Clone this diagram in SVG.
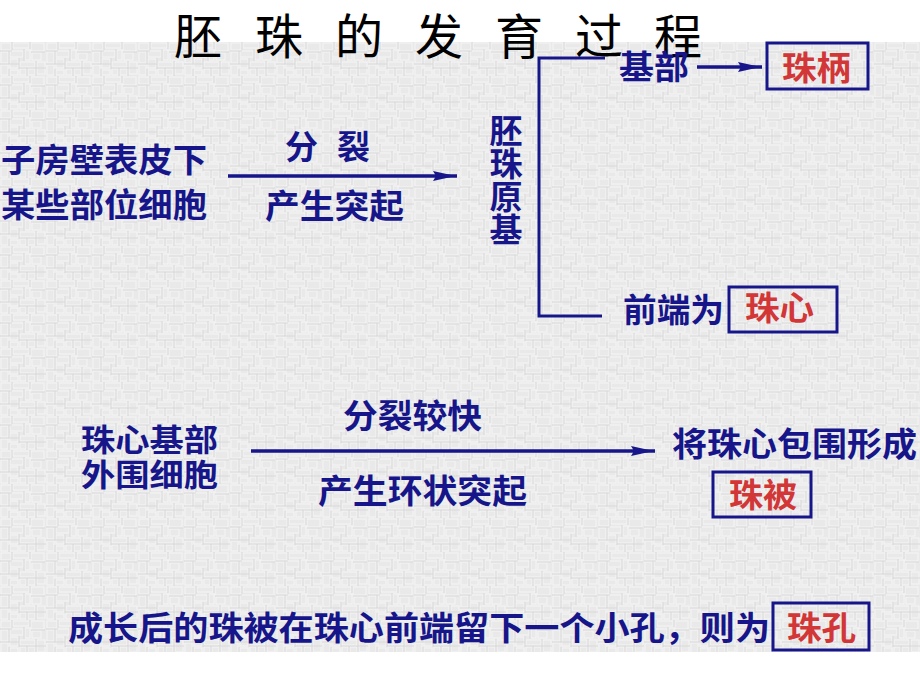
<svg xmlns="http://www.w3.org/2000/svg" width="920" height="690" viewBox="0 0 920 690">
<style>
.title{font-family:"Noto Sans CJK SC","Noto Sans CJK TC",sans-serif;font-size:48px;fill:#000;text-anchor:middle}
.b{font-family:"Noto Sans CJK SC","Noto Sans CJK TC",sans-serif;font-size:33px;font-weight:bold;fill:#16168a}
.b2{font-family:"Noto Sans CJK SC","Noto Sans CJK TC",sans-serif;font-size:31px;font-weight:bold;fill:#16168a}
.r{font-family:"Noto Sans CJK SC","Noto Sans CJK TC",sans-serif;font-size:33px;font-weight:bold;fill:#d23636}
.v{font-family:"Noto Sans CJK SC","Noto Sans CJK TC",sans-serif;font-size:33px;font-weight:bold;fill:#16168a;writing-mode:vertical-rl}
.box{fill:none;stroke:#16168a;stroke-width:3}
.ln{fill:none;stroke:#16168a;stroke-width:3.5}
.br{fill:none;stroke:#16168a;stroke-width:3}
</style>
<defs>
<pattern id="tex" x="0" y="42" width="46" height="34" patternUnits="userSpaceOnUse">
<rect width="46" height="34" fill="#e9e9ea"/>
<g fill="none" stroke="#f6f6f6" stroke-width="1">
<rect x="1" y="1" width="10" height="7"/>
<rect x="13" y="1" width="16" height="5"/>
<rect x="31" y="1" width="13" height="8"/>
<rect x="1" y="10" width="7" height="11"/>
<rect x="10" y="9" width="13" height="6"/>
<rect x="25" y="8" width="5" height="10"/>
<rect x="32" y="11" width="9" height="7"/>
<rect x="10" y="17" width="8" height="9"/>
<rect x="20" y="20" width="15" height="5"/>
<rect x="37" y="20" width="8" height="12"/>
<rect x="1" y="23" width="7" height="10"/>
<rect x="20" y="27" width="6" height="6"/>
<rect x="28" y="27" width="7" height="6"/>
<rect x="10" y="28" width="8" height="5"/>
</g>
<g fill="none" stroke="#d9d9db" stroke-width="1">
<path d="M12,0 V8 M30,0 V7 M0,9 H12 M9,9 V22 M24,7 V19 M31,10 H45 M19,16 V27 M0,22 H19 M36,19 V34 M19,26 H46 M9,27 V34 M27,26 V34"/>
</g>
</pattern>
<marker id="arr" viewBox="0 0 24 12" refX="24" refY="6" markerWidth="24" markerHeight="12" markerUnits="userSpaceOnUse" orient="auto">
<path d="M0,1 L18,5 L24,6 L18,7 L0,11 L3,6 z" fill="#16168a"/>
</marker>
</defs>
<rect width="920" height="690" fill="#fff"/>
<rect x="0" y="42" width="920" height="610" fill="url(#tex)"/>

<g id="title">
<text class="title" x="198" y="54">胚</text>
<text class="title" x="279" y="54">珠</text>
<text class="title" x="359" y="54">的</text>
<text class="title" x="439" y="54">发</text>
<text class="title" x="519" y="54">育</text>
<text class="title" x="599" y="54">过</text>
<text class="title" x="678" y="54">程</text>
</g>

<g id="connectors">
<line class="ln" x1="228" y1="176" x2="457" y2="176" marker-end="url(#arr)"/>
<polyline class="br" points="605,58 539,58 539,316 602,316"/>
<line class="ln" x1="697" y1="67" x2="762" y2="67" marker-end="url(#arr)"/>
<line class="ln" x1="251" y1="451" x2="655" y2="451" marker-end="url(#arr)"/>
</g>

<g id="source-cells">
<text class="b" x="1" y="172" textLength="206" lengthAdjust="spacingAndGlyphs">子房壁表皮下</text>
<text class="b" x="1" y="217" textLength="206" lengthAdjust="spacingAndGlyphs">某些部位细胞</text>
</g>
<g id="label-divide">
<text class="b" x="285" y="159">分</text>
<text class="b" x="337" y="159">裂</text>
<text class="b" x="265" y="218" textLength="139" lengthAdjust="spacingAndGlyphs">产生突起</text>
</g>
<g id="primordium">
<text class="v" x="506" y="114">胚珠原基</text>
</g>
<g id="base">
<text class="b" x="619" y="79" textLength="70" lengthAdjust="spacingAndGlyphs">基部</text>
</g>
<g id="funiculus">
<rect class="box" x="767" y="43" width="101" height="46"/>
<text class="r" x="782" y="80" textLength="69" lengthAdjust="spacingAndGlyphs">珠柄</text>
</g>
<g id="front">
<text class="b" x="623" y="322" textLength="101" lengthAdjust="spacingAndGlyphs">前端为</text>
</g>
<g id="nucellus">
<rect class="box" x="729" y="287" width="108" height="45"/>
<text class="r" x="745" y="320" textLength="69" lengthAdjust="spacingAndGlyphs">珠心</text>
</g>

<g id="outer-cells">
<text class="b2" x="81" y="451" textLength="137" lengthAdjust="spacingAndGlyphs">珠心基部</text>
<text class="b2" x="81" y="486" textLength="137" lengthAdjust="spacingAndGlyphs">外围细胞</text>
</g>
<g id="label-ring">
<text class="b" x="343" y="428" textLength="139" lengthAdjust="spacingAndGlyphs">分裂较快</text>
<text class="b" x="318" y="503" textLength="209" lengthAdjust="spacingAndGlyphs">产生环状突起</text>
</g>
<g id="enclose">
<text class="b" x="672" y="456" textLength="245" lengthAdjust="spacingAndGlyphs">将珠心包围形成</text>
</g>
<g id="integument">
<rect class="box" x="713" y="472" width="98" height="45"/>
<text class="r" x="729" y="507" textLength="68" lengthAdjust="spacingAndGlyphs">珠被</text>
</g>

<g id="bottom-text">
<text class="b" x="68" y="640" textLength="702" lengthAdjust="spacingAndGlyphs">成长后的珠被在珠心前端留下一个小孔，则为</text>
</g>
<g id="micropyle">
<rect class="box" x="773" y="603" width="96" height="47"/>
<text class="r" x="787" y="640" textLength="69" lengthAdjust="spacingAndGlyphs">珠孔</text>
</g>
</svg>
